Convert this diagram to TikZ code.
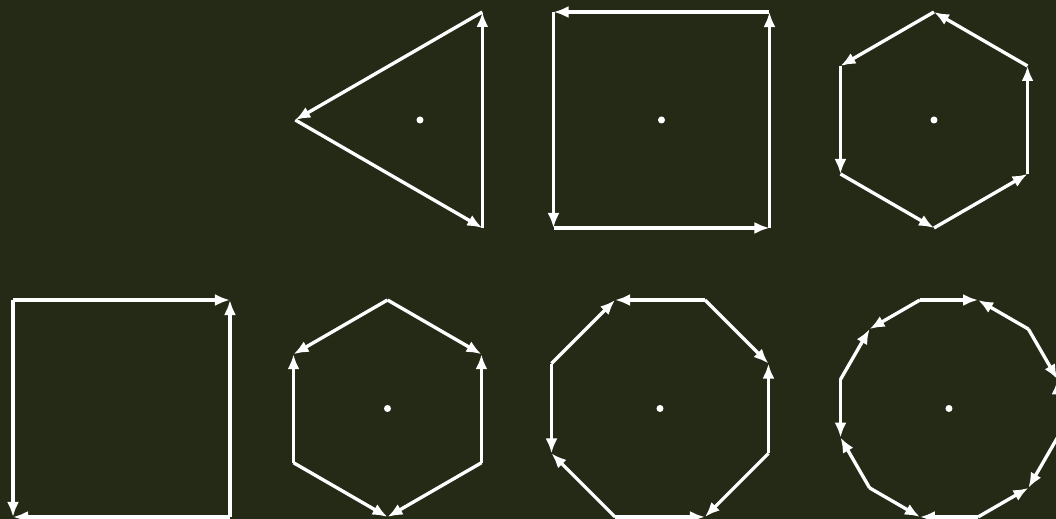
\documentclass[tikz,border=0pt]{standalone}
\usepackage{xcolor}
\usepackage{tikz}
\usetikzlibrary{arrows.meta, calc}

\definecolor{bgolive}{RGB}{37,42,22}

\begin{document}
\begin{tikzpicture}[
  x=0.01cm, y=0.01cm,
  edge/.style={white, line width=0.95pt, line join=round,
               -{Latex[length=1.5mm, width=1.2mm]}},
  dot/.style={circle, fill=white, inner sep=0pt, minimum size=0.7mm},
]
  \fill[bgolive] (0,0) rectangle (1056,519);
  \useasboundingbox (0,0) rectangle (1056,519);

  % top row: every edge runs round the polygon
  \foreach \name/\cx/\cy/\rad/\n in {tri/420/399/124.7/3, sqa/661.5/399/152.7/4,
                                    hexa/934/399/108/6}{
    \coordinate (\name-c) at (\cx,\cy);
    \foreach \k in {1,...,\n}
      \coordinate (\name-\k) at ($(\name-c)+({180/\n+360*(\k-1)/\n}:\rad)$);
    \foreach \k [evaluate=\k as \j using {int(mod(\k,\n)+1)}] in {1,...,\n}
      \draw[edge] (\name-\k) -- (\name-\j);
  }

  % bottom row: edges alternate in direction
  \foreach \name/\cx/\cy/\rad/\n in {sqb/121.5/110.5/153.4/4, hexb/387.5/110.5/108.5/6,
                                    oct/660/110.5/117.4/8, dodec/949/110.5/112.3/12}{
    \coordinate (\name-c) at (\cx,\cy);
    \foreach \k in {1,...,\n}
      \coordinate (\name-\k) at ($(\name-c)+({180/\n+360*(\k-1)/\n}:\rad)$);
    \foreach \k [evaluate=\k as \j using {int(mod(\k,\n)+1)},
                 evaluate=\k as \odd using {int(mod(\k,2))}] in {1,...,\n}{
      \ifnum\odd=1
        \draw[edge] (\name-\j) -- (\name-\k);
      \else
        \draw[edge] (\name-\k) -- (\name-\j);
      \fi
    }
  }

  % centre marks
  \foreach \name in {tri, sqa, hexa, hexb, oct, dodec}
    \node[dot] (\name-dot) at (\name-c) {};
\end{tikzpicture}
\end{document}
